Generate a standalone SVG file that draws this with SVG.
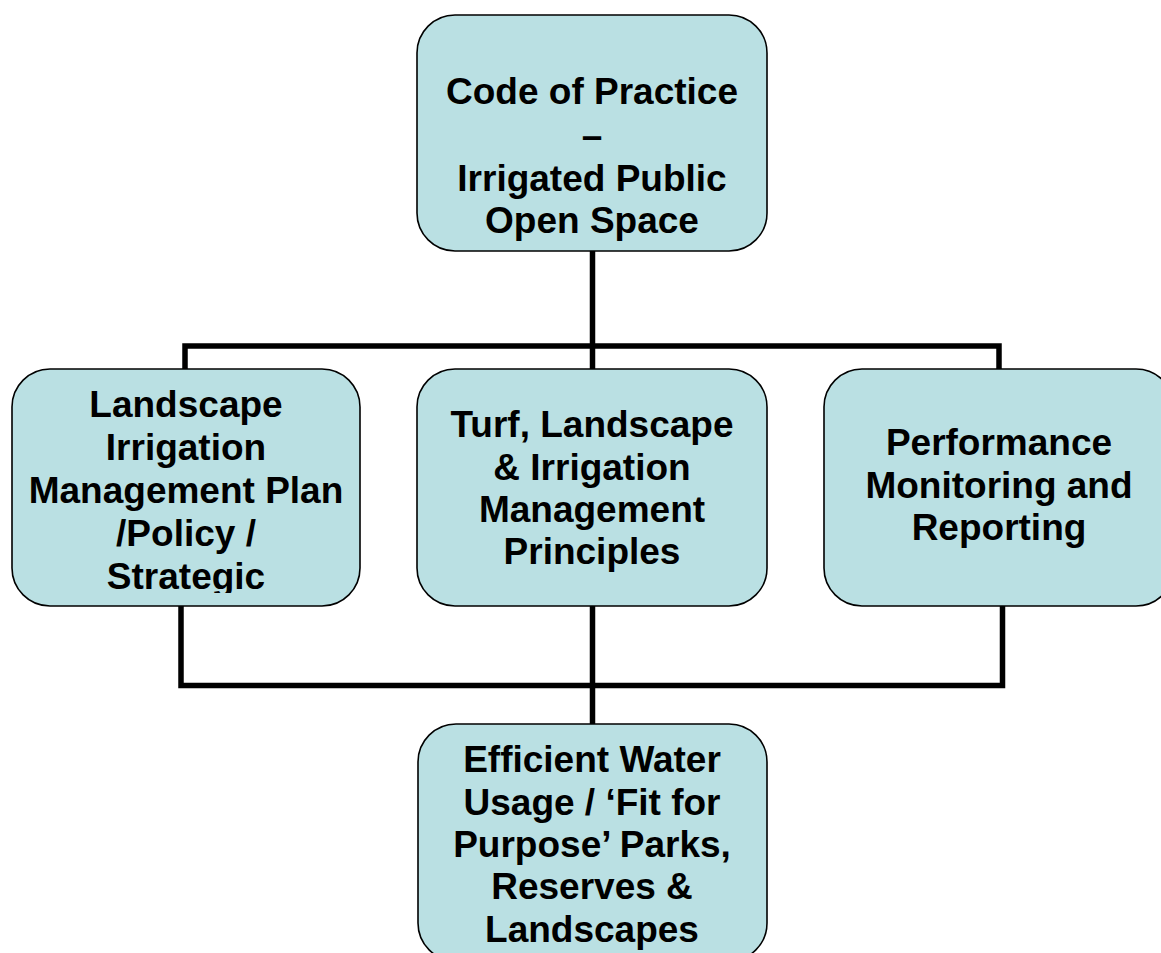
<svg xmlns="http://www.w3.org/2000/svg" width="1161" height="953" viewBox="0 0 1161 953">
<style>
.box{fill:#BAE0E3;stroke:#000;stroke-width:1.6}
.t{font-family:"Liberation Sans",Arial,sans-serif;font-weight:bold;font-size:37px;fill:#000;text-anchor:middle}
.c{fill:none;stroke:#000;stroke-width:5.5;stroke-linecap:butt;stroke-linejoin:miter}
</style>
<defs>
<clipPath id="clipL"><rect x="12" y="369" width="348" height="224"/></clipPath>
</defs>
<rect width="1161" height="953" fill="#fff"/>
<g id="connectors">
<path class="c" d="M592.5 251 V369"/>
<path class="c" d="M185 369 V346 H999 V369"/>
<path class="c" d="M181 606 V685.5 H1002.5 V606"/>
<path class="c" d="M592.5 606 V724"/>
</g>
<g id="node-top">
<rect class="box" x="417" y="15" width="350" height="236" rx="38"/>
<text class="t" x="592" y="104">Code of Practice</text>
<text class="t" x="592" y="148">–</text>
<text class="t" x="592" y="191">Irrigated Public</text>
<text class="t" x="592" y="233">Open Space</text>
</g>
<g id="node-left">
<rect class="box" x="12" y="369" width="348" height="237" rx="38"/>
<g clip-path="url(#clipL)">
<text class="t" x="186" y="417">Landscape</text>
<text class="t" x="186" y="460">Irrigation</text>
<text class="t" x="186" y="503">Management Plan</text>
<text class="t" x="186" y="546">/Policy /</text>
<text class="t" x="186" y="589">Strategic</text>
</g>
</g>
<g id="node-middle">
<rect class="box" x="417" y="369" width="350" height="237" rx="38"/>
<text class="t" x="592" y="437">Turf, Landscape</text>
<text class="t" x="592" y="480">&amp; Irrigation</text>
<text class="t" x="592" y="522">Management</text>
<text class="t" x="592" y="564">Principles</text>
</g>
<g id="node-right">
<rect class="box" x="824" y="369" width="350" height="237" rx="38"/>
<text class="t" x="999" y="455">Performance</text>
<text class="t" x="999" y="498">Monitoring and</text>
<text class="t" x="999" y="540">Reporting</text>
</g>
<g id="node-bottom">
<rect class="box" x="418" y="724" width="349" height="237" rx="38"/>
<text class="t" x="592" y="772">Efficient Water</text>
<text class="t" x="592" y="815">Usage / ‘Fit for</text>
<text class="t" x="592" y="857">Purpose’ Parks,</text>
<text class="t" x="592" y="899">Reserves &amp;</text>
<text class="t" x="592" y="942">Landscapes</text>
</g>
</svg>
